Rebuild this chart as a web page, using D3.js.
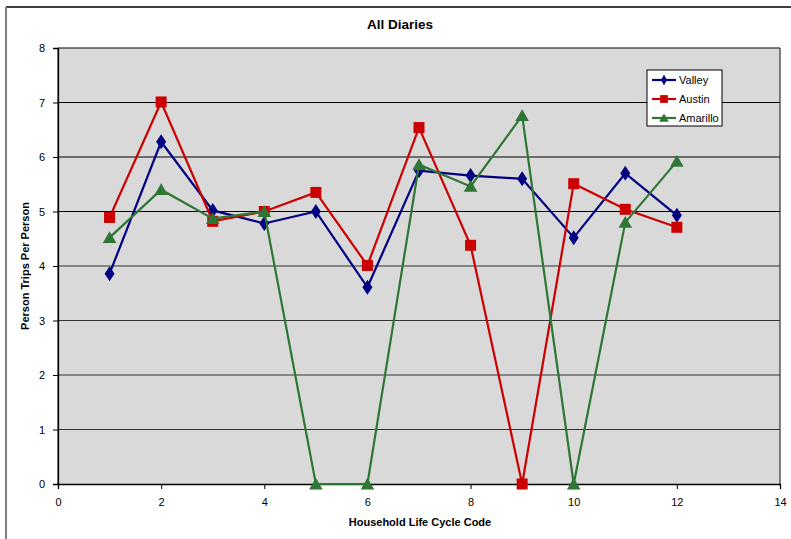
<!DOCTYPE html>
<html><head><meta charset="utf-8">
<script src="https://cdn.jsdelivr.net/npm/d3@7"></script>
<style>body{margin:0;background:#fff;}svg{display:block;font-family:"Liberation Sans",Arial,sans-serif;}</style>
</head><body><svg id="c" width="791" height="539"></svg>
<script>
const codes = [1,2,3,4,5,6,7,8,9,10,11,12];
const valley   = [3.86,6.28,5.02,4.78,5.00,3.61,5.75,5.66,5.60,4.52,5.70,4.93];
const austin   = [4.89,7.01,4.82,5.00,5.35,4.01,6.54,4.38,0.00,5.51,5.04,4.71];
const amarillo = [4.52,5.40,4.87,5.00,0.00,0.00,5.86,5.46,6.76,0.00,4.80,5.92];
const seriesNames = ["Valley","Austin","Amarillo"];
const xTicks = [0,2,4,6,8,10,12,14];
const yTicks = [0,1,2,3,4,5,6,7,8];

const svg = d3.select("#c");
const L=58,R=780,T=48,B=484;
const x = d3.scaleLinear().domain([0,14]).range([L,R]);
const y = d3.scaleLinear().domain([0,8]).range([B,T]);

svg.append("line").attr("x1",6).attr("x2",791).attr("y1",7).attr("y2",7).attr("stroke","#000").attr("stroke-width",1.5);
svg.append("line").attr("x1",6).attr("x2",6).attr("y1",7).attr("y2",539).attr("stroke","#808080").attr("stroke-width",2);

svg.append("rect").attr("x",L).attr("y",T).attr("width",R-L).attr("height",B-T).attr("fill","#d9d9d9");
svg.append("g").selectAll("line").data(yTicks.filter(d=>d>0)).join("line")
  .attr("x1",L).attr("x2",R).attr("y1",d=>y(d)).attr("y2",d=>y(d))
  .attr("stroke",d=>d>=5?"#000":"#333").attr("stroke-width",1);
svg.append("line").attr("x1",R).attr("x2",R).attr("y1",T).attr("y2",B).attr("stroke","#333").attr("stroke-width",1.2);
svg.append("line").attr("x1",L).attr("x2",L).attr("y1",T).attr("y2",B).attr("stroke","#000").attr("stroke-width",1);

const yAxis = svg.append("g").attr("transform",`translate(${L},0)`)
  .call(d3.axisLeft(y).tickValues(yTicks).tickSize(5).tickPadding(8).tickFormat(d3.format("d")));
const xAxis = svg.append("g").attr("transform",`translate(0,${B})`)
  .call(d3.axisBottom(x).tickValues(xTicks).tickSize(5).tickPadding(9).tickFormat(d3.format("d")));
[yAxis,xAxis].forEach(a=>{a.select(".domain").attr("stroke","#000").attr("stroke-width",1.3);
  a.selectAll("text").attr("font-size",11).attr("fill","#000").attr("font-family","Liberation Sans, Arial, sans-serif");
  a.selectAll(".tick line").attr("stroke","#000");});

svg.append("text").attr("x",400).attr("y",29).attr("text-anchor","middle").attr("font-size",13.5).attr("font-weight","bold").text("All Diaries");
svg.append("text").attr("x",420).attr("y",526).attr("text-anchor","middle").attr("font-size",11).attr("font-weight","bold").text("Household Life Cycle Code");
svg.append("text").attr("transform","translate(29,266) rotate(-90)").attr("text-anchor","middle").attr("font-size",11).attr("font-weight","bold").text("Person Trips Per Person");

const colors = ["#000080","#cc0000","#2e7634"];
const data = [valley,austin,amarillo];
const syms = [d3.symbolDiamond, d3.symbolSquare, d3.symbolTriangle];
const sizes = [65,121,80];
const offs = [0,0,1.5];
const line = d3.line().x((d,i)=>x(codes[i])).y(d=>y(d));
data.forEach((vals,k)=>{
  svg.append("path").datum(vals).attr("d",line).attr("fill","none").attr("stroke",colors[k]).attr("stroke-width",2.2);
  svg.append("g").selectAll("path").data(vals).join("path")
    .attr("d",d3.symbol().type(syms[k]).size(sizes[k]))
    .attr("transform",(d,i)=>`translate(${x(codes[i])},${y(d)+offs[k]})${k==0?" scale(1.15,1)":""}`)
    .attr("fill",colors[k]);
});

const lg = svg.append("g");
lg.append("rect").attr("x",647).attr("y",70).attr("width",75).attr("height",56).attr("fill","#fff").attr("stroke","#000").attr("stroke-width",1);
seriesNames.forEach((n,k)=>{
  const yy = 80+k*19;
  lg.append("line").attr("x1",652).attr("x2",676).attr("y1",yy).attr("y2",yy).attr("stroke",colors[k]).attr("stroke-width",2.2);
  lg.append("path").attr("d",d3.symbol().type(syms[k]).size(sizes[k]*0.5)).attr("transform",`translate(664,${yy+offs[k]*0.7})`).attr("fill",colors[k]);
  lg.append("text").attr("x",679).attr("y",yy+4).attr("font-size",11).text(n);
});
</script></body></html>
